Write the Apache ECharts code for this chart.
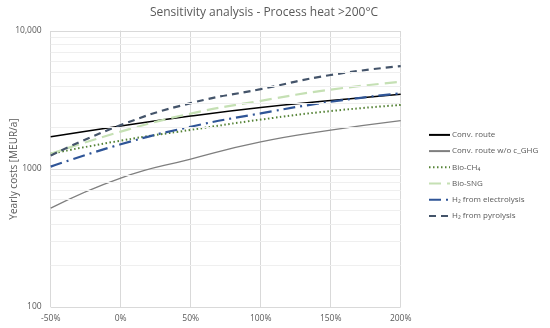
<!DOCTYPE html>
<html>
<head>
<meta charset="utf-8">
<script src="https://cdn.jsdelivr.net/npm/echarts@6/dist/echarts.min.js"></script>
<style>html,body{margin:0;padding:0;background:#fff}#c{width:550px;height:328px}</style>
</head>
<body>
<div id="c"></div>
<script>
const xValues = [-50, 0, 50, 100, 150, 200];
const convRoute = [1710, 2050, 2420, 2790, 3130, 3480];
const convRouteNoGHG = [520, 860, 1180, 1570, 1910, 2240];
const bioCH4 = [1290, 1605, 1920, 2280, 2630, 2910];
const bioSNG = [1290, 1865, 2520, 3120, 3760, 4280];
const h2Electrolysis = [1040, 1510, 2025, 2530, 3070, 3540];
const h2Pyrolysis = [1250, 2080, 3000, 3790, 4800, 5560];
const yTickLabels = {10000: '10,000', 1000: '1000', 100: '100'};
const minorGrid = [200, 300, 400, 500, 600, 700, 800, 900, 2000, 3000, 4000, 5000, 6000, 7000, 8000, 9000];

const pairs = arr => xValues.map((x, i) => [x, arr[i]]);
const font = '"Open Sans", "Noto Sans", sans-serif';

function line(name, data, color, width, type) {
  return {
    name: name, type: 'line', data: pairs(data), smooth: true,
    symbol: 'none', lineStyle: {color: color, width: width, type: type},
    itemStyle: {color: color}, z: 3
  };
}

const chart = echarts.init(document.getElementById('c'), null, {renderer: 'canvas'});
chart.setOption({
  animation: false,
  title: {
    text: 'Sensitivity analysis - Process heat >200°C',
    left: 259, top: 2, textAlign: 'center',
    textStyle: {fontFamily: font, fontSize: 12, fontWeight: 'normal', color: '#595959'}
  },
  grid: {left: 50.7, right: 149.3, top: 31, bottom: 21, containLabel: false, outerBoundsMode: 'none'},
  xAxis: {
    type: 'value', min: -50, max: 200, interval: 50,
    axisLine: {show: false}, axisTick: {show: false},
    axisLabel: {formatter: v => v + '%', color: '#595959', fontSize: 8.5, fontFamily: font, margin: 7},
    splitLine: {show: true, lineStyle: {color: '#d9d9d9', width: 1}}
  },
  yAxis: {
    type: 'log', logBase: 10, min: 100, max: 10000,
    name: 'Yearly costs [MEUR/a]', nameLocation: 'middle', nameGap: 32, nameMoveOverlap: false,
    nameTextStyle: {color: '#595959', fontSize: 10, fontFamily: font},
    axisLine: {show: true, lineStyle: {color: '#d9d9d9'}}, axisTick: {show: false},
    axisLabel: {formatter: v => yTickLabels[Math.round(v)] || '', color: '#595959', fontSize: 8.5, fontFamily: font, margin: 9},
    splitLine: {show: true, lineStyle: {color: '#d9d9d9', width: 1}}
  },
  legend: {
    orient: 'vertical', left: 423, top: 125.5, itemGap: 7.4, itemWidth: 21, itemHeight: 11,
    itemStyle: {opacity: 0},
    textStyle: {color: '#595959', fontSize: 8, fontFamily: font, padding: [0, 0, 0, -3]},
    data: ['Conv. route', 'Conv. route w/o c_GHG', 'Bio-CH₄', 'Bio-SNG', 'H₂ from electrolysis', 'H₂ from pyrolysis']
  },
  series: [
    {
      name: 'grid-minor', type: 'line', data: [], silent: true, z: 1,
      markLine: {
        silent: true, symbol: 'none', label: {show: false},
        lineStyle: {color: '#efefef', width: 1, type: 'solid'},
        data: minorGrid.map(v => ({yAxis: v}))
      }
    },
    line('Conv. route', convRoute, '#000000', 1.5, 'solid'),
    line('Conv. route w/o c_GHG', convRouteNoGHG, '#7f7f7f', 1.3, 'solid'),
    line('Bio-CH₄', bioCH4, '#548235', 2, [1.5, 2.5]),
    line('Bio-SNG', bioSNG, '#c5e0b4', 2.2, [12, 6]),
    line('H₂ from electrolysis', h2Electrolysis, '#2f5597', 2.2, [12, 5, 2, 5]),
    line('H₂ from pyrolysis', h2Pyrolysis, '#44546a', 2.2, [7, 5])
  ]
});
</script>
</body>
</html>
